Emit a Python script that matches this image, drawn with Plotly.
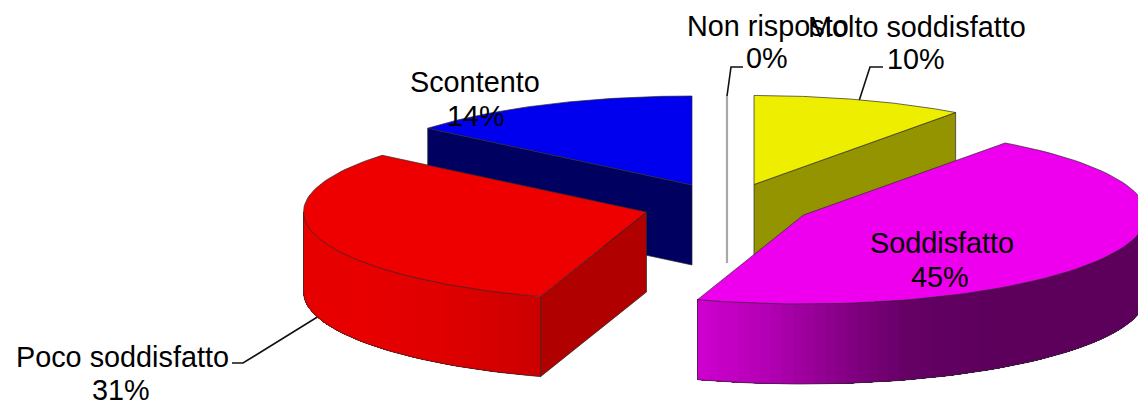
import math
import plotly.graph_objects as go

categories = ["Molto soddisfatto", "Soddisfatto", "Poco soddisfatto", "Scontento", "Non risposto"]
percent_values = [10, 45, 31, 14, 0]

W, H = 1138, 402
A, B, DEPTH = 343, 89, 80
# pie-slice explosion: where each slice's apex lands on the canvas
apex = [(754, 184.5), (803.5, 215), (646.5, 212), (692, 185), (727, 185)]
top_col = ["#eeee00", "#ee00ee", "#ee0000", "#0000ee", "#b0b0b0"]
face_col = ["#949400", None, "#b00000", "#000060", None]
edge = "#2a2a2a"

fig = go.Figure()


def polar(i, deg, dz=0):
    cx, cy = apex[i]
    t = math.radians(deg)
    return cx + A * math.sin(t), cy - B * math.cos(t) + dz


def poly(pts, fill, line=edge, width=0.7):
    xs = [p[0] for p in pts] + [pts[0][0]]
    ys = [p[1] for p in pts] + [pts[0][1]]
    fig.add_trace(go.Scatter(x=xs, y=ys, mode="lines", fill="toself", fillcolor=fill,
                             line=dict(color=line, width=width), hoverinfo="skip", showlegend=False))


def path(pts, color=edge, width=0.7):
    fig.add_trace(go.Scatter(x=[p[0] for p in pts], y=[p[1] for p in pts], mode="lines",
                             line=dict(color=color, width=width), hoverinfo="skip", showlegend=False))


def arc(i, a0, a1, dz=0, n=80):
    return [polar(i, a0 + (a1 - a0) * k / n, dz) for k in range(n + 1)]


def lerp_stops(stops, x):
    if x <= stops[0][0]:
        return stops[0][1]
    for (x0, c0), (x1, c1) in zip(stops, stops[1:]):
        if x <= x1:
            f = (x - x0) / (x1 - x0)
            return c0 + (c1 - c0) * f
    return stops[-1][1]


def rim(i, a0, a1, shade, n=60):
    """Curved outer wall of slice i, painted in overlapping steps so no seams show."""
    a0, a1 = max(a0, 90), min(a1, 270)
    if a0 >= a1:
        return
    # paint from the far end of the arc inward to the other end
    for k in range(n):
        s = a0 + (a1 - a0) * k / n
        p = polar(i, s)
        col = shade(polar(i, s + (a1 - a0) / n / 2)[0])
        top = arc(i, s, a1, 0, n=n - k + 1)
        bot = arc(i, s, a1, DEPTH, n=n - k + 1)
        poly(top + bot[::-1], col, line=col, width=0)
    path(arc(i, a0, a1, DEPTH))
    for a in (a0, a1):
        if polar(i, a)[1] > apex[i][1]:
            path([polar(i, a), polar(i, a, DEPTH)])


# angles from the values
starts, ends = [], []
cum = 0
for v in percent_values:
    starts.append(cum * 3.6)
    cum += v
    ends.append(cum * 3.6)
starts[4] = ends[4] = 0.0  # the 0% slice sits at twelve o'clock


def red_shade(x):
    v = lerp_stops([(304, 230), (360, 232), (450, 222), (541, 204)], x)
    return f"rgb({v:.0f},0,0)"


def mag_shade(x):
    v = lerp_stops([(697, 208), (770, 178), (850, 130), (905, 102), (990, 92), (1138, 92)], x)
    return f"rgb({v:.0f},0,{v:.0f})"


# leader lines that pass behind the slices
path([(727, 96), (731, 67), (743, 67)], "#111111", 1.6)
path([(859, 101), (870, 67), (883, 67)], "#111111", 1.6)
path([(319, 316), (243, 363), (232, 363)], "#111111", 1.6)

# 0 % slice, seen edge on
path([polar(4, 0), (apex[4][0], apex[4][1] + DEPTH - 2)], "#a8a8a8", 2.2)


def inner_face(i, deg):
    p = polar(i, deg)
    c = apex[i]
    poly([c, p, (p[0], p[1] + DEPTH), (c[0], c[1] + DEPTH)], face_col[i])


def top_face(i):
    poly([apex[i]] + arc(i, starts[i], ends[i]), top_col[i])


# blue
inner_face(3, starts[3])
top_face(3)
# yellow
inner_face(0, ends[0])
top_face(0)
# red
inner_face(2, starts[2])
rim(2, starts[2], ends[2], red_shade)
top_face(2)
# magenta
rim(1, starts[1], ends[1], mag_shade)
top_face(1)

# labels: name and percentage, each placed beside its slice
name_pos = {"Molto soddisfatto": (917, 27), "Soddisfatto": (942, 243), "Poco soddisfatto": (122, 357),
            "Scontento": (475, 82), "Non risposto": (768, 26)}
pct_pos = {"Molto soddisfatto": (916, 59), "Soddisfatto": (940, 277), "Poco soddisfatto": (121, 390),
           "Scontento": (476, 116), "Non risposto": (767, 58)}
for c, v in zip(categories, percent_values):
    for (x, y), t in ((name_pos[c], c), (pct_pos[c], f"{v}%")):
        fig.add_annotation(x=x, y=y, text=t, showarrow=False, xanchor="center", yanchor="middle",
                           font=dict(family="Liberation Sans", size=28.8, color="#000000"))

fig.update_layout(
    width=W, height=H, margin=dict(l=0, r=0, t=0, b=0),
    paper_bgcolor="white", plot_bgcolor="white", showlegend=False,
    xaxis=dict(range=[0, W], visible=False, fixedrange=True),
    yaxis=dict(range=[H, 0], visible=False, fixedrange=True),
)
fig.write_html("out.html", config={"displayModeBar": False},
               post_script="document.body.style.margin='0';document.documentElement.style.overflow='hidden';")
